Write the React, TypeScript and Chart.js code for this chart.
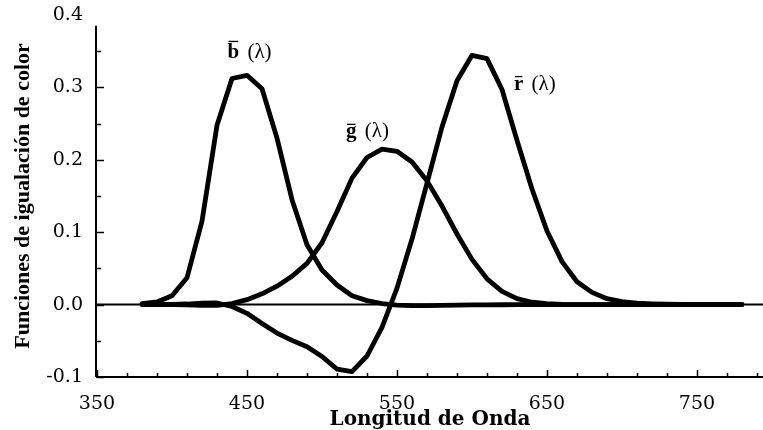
import { useEffect, useRef } from 'react';
import { Chart, registerables } from 'chart.js';

Chart.register(...registerables);

// Wavelength samples (nm)
const wavelengths = [
  380, 390, 400, 410, 420, 430, 440, 450, 460, 470, 480, 490, 500, 510, 520, 530, 540, 550, 560, 570,
  580, 590, 600, 610, 620, 630, 640, 650, 660, 670, 680, 690, 700, 710, 720, 730, 740, 750, 760, 770, 780,
];

// r̄(λ)
const rBar = [
  0.0, 0.0001, 0.0003, 0.0008, 0.0021, 0.0022, -0.0026, -0.0121, -0.0261, -0.0393, -0.0494, -0.0581,
  -0.0717, -0.089, -0.0926, -0.071, -0.0315, 0.0228, 0.0906, 0.1677, 0.2453, 0.3093, 0.3443, 0.3397,
  0.2971, 0.2268, 0.1597, 0.1017, 0.0593, 0.0315, 0.0169, 0.0082, 0.0041, 0.0021, 0.0011, 0.0005,
  0.0003, 0.0001, 0.0001, 0.0, 0.0,
];

// ḡ(λ)
const gBar = [
  0.0, 0.0, -0.0001, -0.0004, -0.0011, -0.0012, 0.0015, 0.0068, 0.0149, 0.0254, 0.0391, 0.0569, 0.0854,
  0.1286, 0.1747, 0.2032, 0.2147, 0.2118, 0.197, 0.1709, 0.1361, 0.0975, 0.0625, 0.0356, 0.0183, 0.0083,
  0.0033, 0.0012, 0.0004, 0.0001, 0.0, 0.0, 0.0, 0.0, 0.0, 0.0, 0.0, 0.0, 0.0, 0.0, 0.0,
];

// b̄(λ)
const bBar = [
  0.0012, 0.0036, 0.0121, 0.0371, 0.1154, 0.2477, 0.3123, 0.3167, 0.2982, 0.2299, 0.1449, 0.0826,
  0.0478, 0.027, 0.0122, 0.0055, 0.0015, -0.0006, -0.0013, -0.0014, -0.0011, -0.0008, -0.0005, -0.0003,
  -0.0002, -0.0001, 0.0, 0.0, 0.0, 0.0, 0.0, 0.0, 0.0, 0.0, 0.0, 0.0, 0.0, 0.0, 0.0, 0.0, 0.0,
];

// Axis ticks
const xTickLabels = [350, 450, 550, 650, 750];
const xMinorTicks = [
  350, 370, 390, 410, 430, 450, 470, 490, 510, 530, 550, 570, 590, 610, 630, 650, 670, 690, 710, 730,
  750, 770, 790,
];
const yTickLabels = [-0.1, 0.0, 0.1, 0.2, 0.3, 0.4];
const yMinorTicks = [-0.05, 0.05, 0.15, 0.25, 0.35];

const X_MIN = 350;
const X_MAX = 794;
const Y_MIN = -0.1;
const Y_MAX = 0.4;
const Y_AXIS_LINE_TOP = 0.385;

// Curve labels (letter, anchor wavelength, anchor value at baseline)
const curveLetters = ['b', 'g', 'r'];
const curveLabelX = [437, 516, 628];
const curveLabelY = [0.34, 0.231, 0.297];

const decorPlugin = {
  id: 'decor',
  beforeDatasetsDraw(chart: any) {
    const { ctx, chartArea } = chart;
    const xs = chart.scales.x;
    const ys = chart.scales.y;
    ctx.save();
    ctx.strokeStyle = '#000';
    // left axis line
    ctx.lineWidth = 2;
    ctx.beginPath();
    ctx.moveTo(chartArea.left - 1, ys.getPixelForValue(Y_AXIS_LINE_TOP));
    ctx.lineTo(chartArea.left - 1, chartArea.bottom);
    ctx.stroke();
    // zero line
    const y0 = ys.getPixelForValue(0);
    ctx.beginPath();
    ctx.moveTo(chartArea.left, y0);
    ctx.lineTo(chartArea.right, y0);
    ctx.stroke();
    // inward ticks
    ctx.lineWidth = 1.5;
    ctx.beginPath();
    xMinorTicks.forEach((v) => {
      const px = Math.round(xs.getPixelForValue(v)) + 0.5;
      const len = xTickLabels.includes(v) ? 7 : 4;
      ctx.moveTo(px, chartArea.bottom);
      ctx.lineTo(px, chartArea.bottom - len);
    });
    [...yTickLabels, ...yMinorTicks].forEach((v) => {
      if (v > Y_AXIS_LINE_TOP) return;
      const py = Math.round(ys.getPixelForValue(v)) + 0.5;
      const len = yTickLabels.includes(v) ? 7 : 4;
      ctx.moveTo(chartArea.left, py);
      ctx.lineTo(chartArea.left + len, py);
    });
    ctx.stroke();
    ctx.restore();
  },
  afterDatasetsDraw(chart: any) {
    const { ctx } = chart;
    const xs = chart.scales.x;
    const ys = chart.scales.y;
    ctx.save();
    ctx.fillStyle = '#000';
    ctx.strokeStyle = '#000';
    ctx.textBaseline = 'alphabetic';
    ctx.textAlign = 'left';
    curveLetters.forEach((letter, i) => {
      const px = xs.getPixelForValue(curveLabelX[i]);
      const py = ys.getPixelForValue(curveLabelY[i]);
      ctx.font = 'bold 21px "Liberation Serif"';
      const w = ctx.measureText(letter).width;
      ctx.fillText(letter, px, py);
      const barY = letter === 'b' ? py - 17 : py - 13;
      ctx.lineWidth = 1.3;
      ctx.beginPath();
      ctx.moveTo(px + 1, barY);
      ctx.lineTo(px + w - 1, barY);
      ctx.stroke();
      ctx.font = '21px "Liberation Serif"';
      ctx.fillText(' (\u03bb)', px + w + 3, py);
    });
    ctx.restore();
  },
};

export default function App() {
  const canvasRef = useRef<HTMLCanvasElement | null>(null);

  useEffect(() => {
    document.body.style.margin = '0';
    const canvas = canvasRef.current;
    if (!canvas) return;
    const mk = (vals: number[]) => wavelengths.map((w, i) => ({ x: w, y: vals[i] }));
    const lineStyle = {
      borderColor: '#000',
      borderWidth: 4.8,
      pointRadius: 0,
      tension: 0,
      fill: false,
      borderJoinStyle: 'round' as const,
      borderCapStyle: 'round' as const,
    };
    const chart = new Chart(canvas, {
      type: 'line',
      data: {
        datasets: [
          { label: 'b', data: mk(bBar), ...lineStyle },
          { label: 'g', data: mk(gBar), ...lineStyle },
          { label: 'r', data: mk(rBar), ...lineStyle },
        ],
      },
      options: {
        responsive: false,
        animation: false,
        layout: { padding: { top: 15, right: 0, left: 0, bottom: 0 } },
        plugins: { legend: { display: false }, tooltip: { enabled: false } },
        scales: {
          x: {
            type: 'linear',
            min: X_MIN,
            max: X_MAX,
            afterBuildTicks: (scale: any) => {
              scale.ticks = xTickLabels.map((value) => ({ value }));
            },
            afterFit: (scale: any) => {
              scale.height = 53;
              scale.paddingLeft = 0;
              scale.paddingRight = 0;
            },
            grid: { display: false, drawTicks: false },
            border: { display: true, color: '#000', width: 2 },
            ticks: {
              color: '#000',
              padding: 16,
              maxRotation: 0,
              autoSkip: false,
              font: { family: '"DejaVu Serif"', size: 19 },
              callback: (v: any) => String(v),
            },
            title: {
              display: true,
              text: 'Longitud de Onda',
              color: '#000',
              padding: 0,
              font: { family: '"DejaVu Serif"', size: 20, weight: 'bold', lineHeight: 1 },
            },
          },
          y: {
            type: 'linear',
            min: Y_MIN,
            max: Y_MAX,
            afterBuildTicks: (scale: any) => {
              scale.ticks = yTickLabels.map((value) => ({ value }));
            },
            afterFit: (scale: any) => {
              scale.width = 97;
              scale.paddingTop = 0;
              scale.paddingBottom = 0;
            },
            grid: { display: false, drawTicks: false },
            border: { display: false },
            ticks: {
              color: '#000',
              padding: 14,
              font: { family: '"DejaVu Serif"', size: 19 },
              callback: (v: any) => Number(v).toFixed(1),
            },
            title: {
              display: true,
              text: 'Funciones de igualación de color',
              color: '#000',
              padding: { top: 10, bottom: 0 },
              font: { family: '"Liberation Serif"', size: 22, weight: 'bold', lineHeight: 1.2 },
            },
          },
        },
      },
      plugins: [decorPlugin],
    });
    return () => chart.destroy();
  }, []);

  return (
    <div style={{ width: 763, height: 430 }}>
      <canvas ref={canvasRef} width={763} height={430} style={{ display: 'block' }} />
    </div>
  );
}
